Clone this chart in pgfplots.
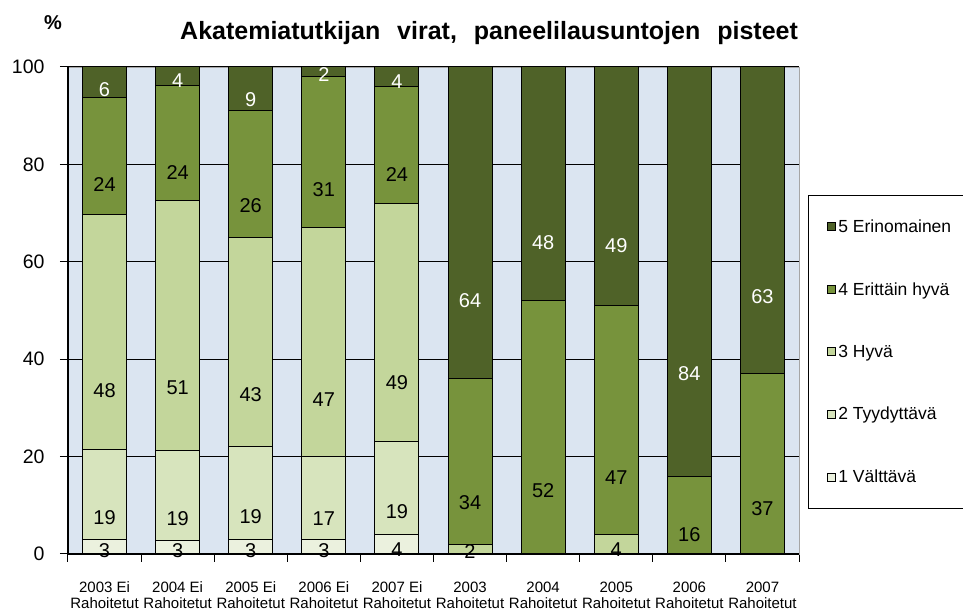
\documentclass[border=0pt]{standalone}
\usepackage{pgfplots}
\pgfplotsset{compat=1.18}
\usepackage{pgfplotstable}
\usepackage{fontspec}
\setmainfont{Liberation Sans}
\definecolor{c1}{HTML}{EBF1DE}
\definecolor{c2}{HTML}{D7E4BD}
\definecolor{c3}{HTML}{C3D69B}
\definecolor{c4}{HTML}{77933C}
\definecolor{c5}{HTML}{4F6228}
\definecolor{bgblue}{HTML}{DBE5F1}
\pgfplotsset{
  calcoffset/.code={%
    \pgfkeys{/pgf/fpu=true,/pgf/fpu/output format=fixed}%
    \pgfmathsetmacro\segoff{\pgfplotspointmeta*1.2175}%
    \pgfkeys{/pgf/fpu=false}%
  },
}
\pgfplotstableread{
x s1 s2 s3 s4 s5
0 2.9 18.6 48.3 24.0 6.2
1 2.7 18.6 51.2 23.7 3.8
2 3 19 43 26 9
3 3 17 47 31 2
4 4 19 49 24 4
5 0 0 2 34 64
6 0 0 0 52 48
7 0 0 4 47 49
8 0 0 0 16 84
9 0 0 0 37 63
}\datatable
\begin{document}
\begin{tikzpicture}
\begin{axis}[
  at={(0pt,0pt)}, anchor=south west,
  scale only axis, width=731pt, height=487pt,
  ybar stacked, bar width=44pt,
  xmin=-0.5, xmax=9.5, ymin=0, ymax=100,
  enlargelimits=false,
  axis background/.style={fill=bgblue},
  axis line style={draw=gray!70, line width=0.8pt},
  ymajorgrids, major grid style={black, line width=1pt},
  ytick={0,20,...,100},
  yticklabel style={font=\fontsize{19.5}{22}\selectfont, xshift=-12pt},
  /pgf/number format/assume math mode=true,
  xtick={-0.5,0.5,...,9.5},
  xticklabels={,,,,,,,,,,,},
  extra x ticks={0,...,9},
  extra x tick labels={{2003 Ei\\Rahoitetut},{2004 Ei\\Rahoitetut},{2005 Ei\\Rahoitetut},{2006 Ei\\Rahoitetut},{2007 Ei\\Rahoitetut},{2003\\Rahoitetut},{2004\\Rahoitetut},{2005\\Rahoitetut},{2006\\Rahoitetut},{2007\\Rahoitetut}},
  extra x tick style={major tick length=0pt, grid=none, xticklabel style={align=center, font=\fontsize{15}{16}\selectfont, yshift=-24pt}},
  tick pos=left, tick align=outside, major tick length=8pt,
  tick style={black, line width=1pt},
  nodes near coords={\pgfmathfloatifflags{\pgfplotspointmeta}{0}{}{\pgfmathprintnumber[fixed,precision=0]{\pgfplotspointmeta}}},
  every node near coord/.append style={/pgfplots/calcoffset, anchor=center, yshift=-\segoff pt, font=\fontsize{20}{22}\selectfont, text=black},
  title={Akatemiatutkijan\hspace{10pt} virat,\hspace{10pt} paneelilausuntojen\hspace{10pt} pisteet},
  title style={at={(0.576,1.0431)}, anchor=base, yshift=0pt, font=\bfseries\fontsize{25}{28}\selectfont},
  legend style={at={(1.0123,0.737)}, anchor=north west, draw=black, line width=1.2pt,
    font=\fontsize{17.5}{20}\selectfont, row sep=48.5pt, inner xsep=18pt, inner ysep=24pt,
    nodes={inner xsep=3pt, inner ysep=0pt}},
  legend cell align=left,
  reverse legend,
  legend image code/.code={\draw[#1, draw=black, line width=0.8pt] (0pt,-4pt) rectangle (8pt,4pt);},
  after end axis/.code={
    \draw[black, line width=2pt] (rel axis cs:0,1) -- (rel axis cs:0,0) -- (rel axis cs:1,0);
    \node[font=\bfseries\fontsize{20}{24}\selectfont] at (rel axis cs:-0.0205,1.092) {\%};
  },
]
\addplot[fill=c1, draw=black, line width=1pt] table[x=x, y=s1] {\datatable};
\addlegendentry{1 Välttävä}
\addplot[fill=c2, draw=black, line width=1pt] table[x=x, y=s2] {\datatable};
\addlegendentry{2 Tyydyttävä}
\addplot[fill=c3, draw=black, line width=1pt] table[x=x, y=s3] {\datatable};
\addlegendentry{3 Hyvä}
\addplot[fill=c4, draw=black, line width=1pt] table[x=x, y=s4] {\datatable};
\addlegendentry{4 Erittäin hyvä}
\addplot[fill=c5, draw=black, line width=1pt, every node near coord/.append style={text=white}] table[x=x, y=s5] {\datatable};
\addlegendentry{5 Erinomainen\hspace*{40pt}}
\end{axis}
\pgfresetboundingbox
\path (-68pt,-58pt) rectangle (895pt,554pt);
\end{tikzpicture}
\end{document}
